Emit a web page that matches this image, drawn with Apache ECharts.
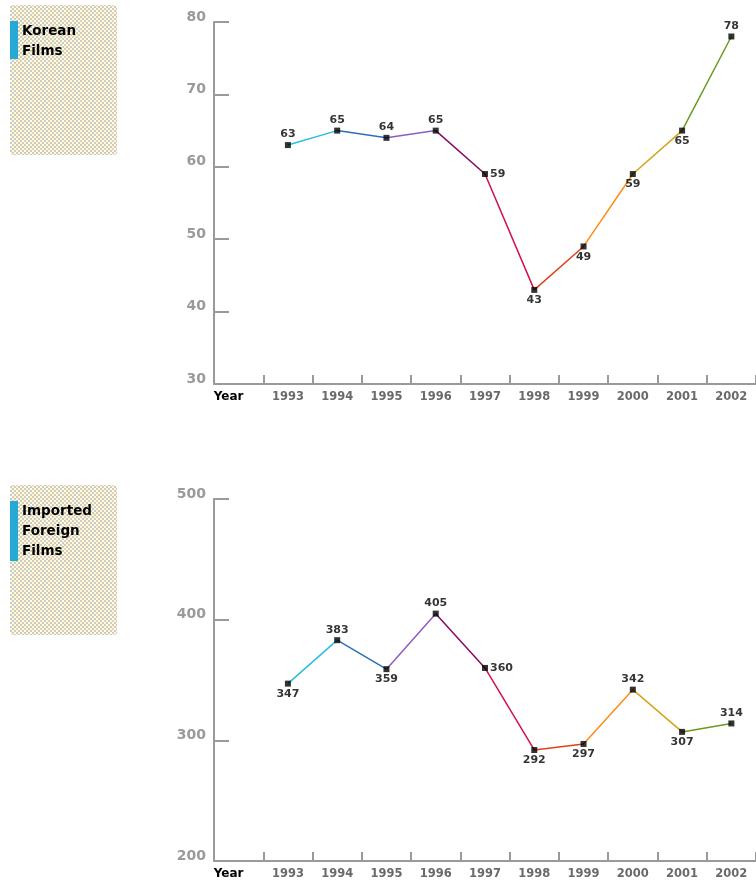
<!DOCTYPE html>
<html>
<head>
<meta charset="utf-8">
<script src="https://cdn.jsdelivr.net/npm/echarts@6/dist/echarts.min.js"></script>
<style>
html,body{margin:0;padding:0;background:#fff;}
#chart{width:756px;height:883px;}
</style>
</head>
<body>
<div id="chart"></div>
<script>
// ---- data ----
var categories = ['Year','1993','1994','1995','1996','1997','1998','1999','2000','2001','2002'];
var koreanFilms = [null, 63, 65, 64, 65, 59, 43, 49, 59, 65, 78];
var importedFilms = [null, 347, 383, 359, 405, 360, 292, 297, 342, 307, 314];
var topTitle = 'Korean\nFilms';
var bottomTitle = 'Imported\nForeign\nFilms';
var topTicks = {min: 30, max: 80, interval: 10};
var bottomTicks = {min: 200, max: 500, interval: 100};

// ---- styles ----
var segColors = ['#2bbde0','#2f6db8','#8d5cc4','#8b0a5e','#d0104a','#e0401a','#ff8c10','#d4a418','#6b9a1e'];
var topLabelPos = [null,'top','top','top','top','right','bottom','bottom','bottom','bottom','top'];
var bottomLabelPos = [null,'bottom','top','bottom','top','right','bottom','bottom','top','bottom','top'];
var FONT = '"DejaVu Sans", Verdana, sans-serif';

function makePattern(){
  var c = document.createElement('canvas');
  c.width = 16; c.height = 16;
  var g = c.getContext('2d');
  for (var i = 0; i < 8; i++) {
    for (var j = 0; j < 8; j++) {
      var col;
      if ((i + j) % 2 === 0) {
        col = (i % 4 === 0 && j % 4 === 2) ? '#f7c4c4' : '#cbcbcb';
      } else {
        col = ((i * 3 + j) % 5 === 0) ? '#ffffff' : '#fffac6';
      }
      g.fillStyle = col;
      g.fillRect(i * 2, j * 2, 2, 2);
    }
  }
  return c;
}
var pat = makePattern();

function pieces(){
  var p = [];
  for (var k = 1; k <= 9; k++) {
    p.push(k === 1 ? {gte: k, lte: k + 1, color: segColors[k - 1]} : {gt: k, lte: k + 1, color: segColors[k - 1]});
  }
  return p;
}

function xAxis(gi){
  return {
    type: 'category', gridIndex: gi, data: categories, boundaryGap: true,
    axisLine: {show: true, lineStyle: {color: '#9a9a9a', width: 2}},
    axisTick: {show: true, inside: true, length: 9, alignWithLabel: false, lineStyle: {color: '#9a9a9a', width: 2}},
    axisLabel: {
      margin: 7, color: '#6a6a6a', fontWeight: 'bold', fontSize: 11.5, fontFamily: FONT, interval: 0,
      formatter: function(v){ return v === 'Year' ? '{y|Year}' : v; },
      rich: {y: {color: '#000', fontWeight: 'bold', fontSize: 12, fontFamily: FONT, padding: [0, 20, 0, 0]}}
    },
    splitLine: {show: false}
  };
}
function yAxis(gi, t){
  return {
    type: 'value', gridIndex: gi, min: t.min, max: t.max, interval: t.interval,
    axisLine: {show: true, lineStyle: {color: '#9a9a9a', width: 2}},
    axisTick: {show: true, inside: true, length: 15, lineStyle: {color: '#9a9a9a', width: 2}},
    axisLabel: {margin: 8, color: '#9a9a9a', fontWeight: 'bold', fontSize: 14, fontFamily: FONT, verticalAlign: 'bottom', padding: [0, 0, -2, 0]},
    splitLine: {show: false}
  };
}
function lineSeries(gi, data){
  return {
    type: 'line', xAxisIndex: gi, yAxisIndex: gi, data: data,
    showSymbol: false, symbol: 'none', lineStyle: {width: 1.5}, silent: true, z: 2
  };
}
function pointSeries(gi, data, pos){
  return {
    type: 'scatter', xAxisIndex: gi, yAxisIndex: gi, symbol: 'rect', symbolSize: 6,
    itemStyle: {color: '#000'}, z: 3, silent: true,
    data: data.map(function(v, i){
      return v == null ? null : {value: v, label: {position: pos[i]}};
    }),
    label: {show: true, color: '#000', fontWeight: 'bold', fontSize: 11, fontFamily: FONT, distance: 2}
  };
}
function box(y, h, barH, text){
  return [
    {type: 'rect', shape: {x: 10, y: y, width: 107, height: h, r: 3}, style: {fill: {image: pat, repeat: 'repeat'}}, silent: true},
    {type: 'rect', shape: {x: 10, y: y + 16, width: 8, height: barH}, style: {fill: '#27a9d6'}, silent: true},
    {type: 'text', x: 22, y: y + 16, style: {text: text, fill: '#000', font: 'bold 13.5px ' + FONT, lineHeight: 20, textVerticalAlign: 'top'}, silent: true}
  ];
}

var chart = echarts.init(document.getElementById('chart'));
chart.setOption({
  animation: false,
  backgroundColor: '#fff',
  grid: [
    {left: 214, top: 22, width: 545, height: 362},
    {left: 214, top: 499, width: 545, height: 362}
  ],
  xAxis: [xAxis(0), xAxis(1)],
  yAxis: [yAxis(0, topTicks), yAxis(1, bottomTicks)],
  visualMap: [
    {type: 'piecewise', show: false, dimension: 0, seriesIndex: 0, pieces: pieces(), outOfRange: {color: '#999'}},
    {type: 'piecewise', show: false, dimension: 0, seriesIndex: 2, pieces: pieces(), outOfRange: {color: '#999'}}
  ],
  series: [
    lineSeries(0, koreanFilms),
    pointSeries(0, koreanFilms, topLabelPos),
    lineSeries(1, importedFilms),
    pointSeries(1, importedFilms, bottomLabelPos)
  ],
  graphic: box(5, 150, 38, topTitle).concat(box(485, 150, 60, bottomTitle))
});
</script>
</body>
</html>
